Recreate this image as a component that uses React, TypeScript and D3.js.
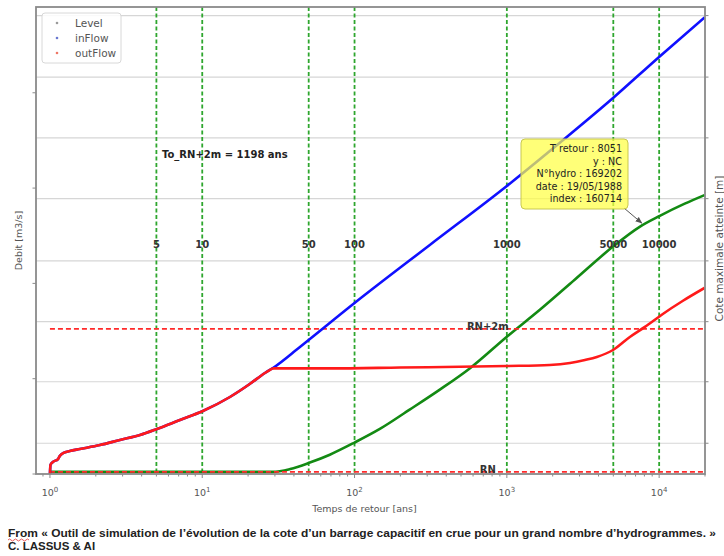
import React from "react";
import * as d3 from "d3";

// ---- data ----
const levelT = [1, 29, 37.8, 50.9, 68.8, 100, 146.6, 230, 363, 573, 1000, 1655, 2800, 4980, 7490, 10100, 14720, 19870];
const levelM = [100.0, 100.0, 100.04, 100.13, 100.24, 100.41, 100.6, 100.87, 101.15, 101.45, 101.89, 102.27, 102.69, 103.15, 103.43, 103.58, 103.75, 103.87];

// outFlow: rising part (before weir control) and controlled part
const outRiseT = [1.0, 1.008, 1.046, 1.13, 1.16, 1.22, 1.35, 1.57, 2.13, 2.88, 3.9, 5.04, 7.14, 10.1, 15.2, 20.5, 25.8, 29.1];
const outRiseQ = [0, 94, 126, 157, 189, 220, 241, 262, 304, 357, 409, 472, 567, 661, 808, 944, 1060, 1112];
const outCtrlT = [29.1, 68.8, 199, 1000, 1912, 2600, 3255, 3900, 4980, 6420, 8060, 10570, 14250, 19870];
const outCtrlQ = [1108, 1108, 1117, 1133, 1144, 1165, 1196, 1228, 1301, 1438, 1543, 1679, 1815, 1952];

const inT = [1.0, 1.008, 1.046, 1.13, 1.16, 1.22, 1.35, 1.57, 2.13, 2.88, 3.9, 5.04, 7.14, 10.1, 15.2, 20.5, 25.8, 29.1, 43.8, 100, 312, 1000, 2217, 4980, 9990, 19870];
const inQ = [0, 94, 126, 157, 189, 220, 241, 262, 304, 357, 409, 472, 567, 661, 808, 944, 1060, 1112, 1333, 1794, 2403, 3022, 3473, 3945, 4376, 4790];

const returnPeriods = [5, 10, 50, 100, 1000, 5000, 10000];
const decadeTicks = [1, 10, 100, 1000, 10000];
const leftTicks = [0, 1000, 2000, 3000, 4000];
const rightTicks = [100.4, 101.26, 102.1, 102.95, 103.82, 104.67, 105.52, 106.38];

const RN = 100.0;
const RN2 = 102.0;
const refLabelT = 750;

const T_RN2 = 1198;
const annT = 8051;
const annLevel = 103.45;
const annLines = ["T retour : 8051", "y : NC", "N°hydro : 169202", "date : 19/05/1988", "index : 160714"];

const legendNames = ["Level", "inFlow", "outFlow"];
const legendColors = ["#9a9a9a", "#6a78d0", "#ee7766"];

export default function App() {
  const L = 36, R = 705, T = 7, B = 474;
  const x = d3.scaleLog().domain([0.81, 20000]).range([L, R]);
  const yL = d3.scaleLinear().domain([0, 4900]).range([B, T]);
  const yR = d3.scaleLinear().domain([99.97, 106.5]).range([B, T]);

  const lineL = (ts: number[], vs: number[]) =>
    d3.line<number>().x((_, i) => x(ts[i])).y((v) => yL(v)).curve(d3.curveMonotoneX)(vs) || "";
  const lineR = (ts: number[], vs: number[]) =>
    d3.line<number>().x((_, i) => x(ts[i])).y((v) => yR(v)).curve(d3.curveMonotoneX)(vs) || "";

  const minor = x.ticks().filter((t) => !decadeTicks.includes(t));
  const font = "DejaVu Sans, sans-serif";
  const axisCol = "#8a8a8a";

  const ax = x(annT), ay = yR(annLevel);

  return (
    <svg width={724} height={556} style={{ position: "absolute", left: 0, top: 0, background: "#fff" }} fontFamily={font}>
      <defs>
        <clipPath id="plot"><rect x={L} y={T} width={R - L} height={B - T} /></clipPath>
        <marker id="ah" viewBox="0 0 10 10" refX="9" refY="5" markerWidth="7" markerHeight="7" orient="auto">
          <path d="M0,1 L10,5 L0,9 z" fill="#555" />
        </marker>
      </defs>

      {/* gridlines */}
      {rightTicks.map((t) => (
        <line key={"g" + t} x1={L} x2={R} y1={yR(t)} y2={yR(t)} stroke="#d6d6d6" strokeWidth={1.2} />
      ))}

      <g clipPath="url(#plot)">
        {returnPeriods.map((p) => (
          <line key={"v" + p} x1={x(p)} x2={x(p)} y1={T} y2={B} stroke="#2ea62e" strokeWidth={1.8} strokeDasharray="4,2.5" />
        ))}
        <path d={lineR(levelT, levelM)} fill="none" stroke="#138a13" strokeWidth={2.6} />
        <line x1={x(1)} x2={R} y1={yR(RN)} y2={yR(RN)} stroke="#ff2a2a" strokeWidth={1.8} strokeDasharray="5,3" />
        <line x1={x(1)} x2={R} y1={yR(RN2)} y2={yR(RN2)} stroke="#ff2a2a" strokeWidth={1.8} strokeDasharray="5,3" />
        <path d={lineL(inT, inQ)} fill="none" stroke="#1010ff" strokeWidth={2.6} />
        <path d={lineL(outRiseT, outRiseQ)} fill="none" stroke="#ff1a1a" strokeWidth={2.6} strokeLinejoin="round" />
        <path d={lineL(outCtrlT, outCtrlQ)} fill="none" stroke="#ff1a1a" strokeWidth={2.6} strokeLinejoin="round" />
      </g>

      {returnPeriods.map((p) => (
        <text key={"l" + p} x={x(p)} y={248} textAnchor="middle" fontSize={10} fontWeight="bold" fill="#333">{p}</text>
      ))}
      <text x={x(refLabelT)} y={yR(RN2) + 1} textAnchor="middle" fontSize={10} fontWeight="bold" fill="#333">RN+2m</text>
      <text x={x(refLabelT)} y={yR(RN) + 1} textAnchor="middle" fontSize={10} fontWeight="bold" fill="#333">RN</text>
      <text x={162} y={158} fontSize={10} fontWeight="bold" fill="#222">{`To_RN+2m = ${T_RN2} ans`}</text>

      <line x1={624} y1={208} x2={ax - 3} y2={ay - 2} stroke="#555" strokeWidth={1} markerEnd="url(#ah)" />
      <rect x={521} y={139} width={107} height={70} rx={4} fill="#ffff44" fillOpacity={0.72} stroke="#c8c850" strokeWidth={1} />
      {annLines.map((s, i) => (
        <text key={s} x={622} y={152 + i * 12.5} textAnchor="end" fontSize={9.6} fill="#222">{s}</text>
      ))}

      <rect x={L} y={T} width={R - L} height={B - T} fill="none" stroke={axisCol} strokeWidth={1.8} />

      {decadeTicks.map((t, i) => (
        <g key={"xt" + t}>
          <line x1={x(t)} x2={x(t)} y1={B} y2={B + 4} stroke={axisCol} />
          <text x={x(t)} y={496} textAnchor="middle" fontSize={9.5} fill="#555">
            10<tspan dy={-4} fontSize={7}>{i}</tspan>
          </text>
        </g>
      ))}
      {minor.map((t) => (
        <line key={"mt" + t} x1={x(t)} x2={x(t)} y1={B} y2={B + 2.5} stroke={axisCol} />
      ))}
      {leftTicks.map((t) => (
        <line key={"lt" + t} x1={L - 3.5} x2={L} y1={yL(t)} y2={yL(t)} stroke={axisCol} />
      ))}
      {rightTicks.map((t) => (
        <line key={"rt" + t} x1={R} x2={R + 3.5} y1={yR(t)} y2={yR(t)} stroke={axisCol} />
      ))}

      <text x={(L + R) / 2 - 6} y={512} textAnchor="middle" fontSize={9.5} fill="#555">Temps de retour [ans]</text>
      <text transform={`translate(22,${(T + B) / 2}) rotate(-90)`} textAnchor="middle" fontSize={9.5} fill="#555">Debit [m3/s]</text>
      <text transform={`translate(723,${(T + B) / 2 + 8}) rotate(-90)`} textAnchor="middle" fontSize={10.5} fill="#555">Cote maximale atteinte [m]</text>

      <rect x={42} y={13} width={79} height={50} rx={3} fill="#fff" fillOpacity={0.85} stroke="#d8d8d8" />
      {legendNames.map((n, i) => (
        <g key={n}>
          <circle cx={57} cy={23 + i * 15} r={1.3} fill={legendColors[i]} />
          <text x={75} y={27 + i * 15} fontSize={10.5} fill="#555">{n}</text>
        </g>
      ))}

      <text x={8} y={537} fontSize={11.5} fontWeight="bold" fill="#222" fontFamily="Liberation Sans Narrow, Liberation Sans, sans-serif" textLength={708} lengthAdjust="spacingAndGlyphs">
        From « Outil de simulation de l’évolution de la cote d’un barrage capacitif en crue pour un grand nombre d’hydrogrammes. »
      </text>
      <path d="M8,540 q1.5,-2 3,0 t3,0 t3,0 t3,0 t3,0 t3,0 t3,0" fill="none" stroke="#e03030" strokeWidth={0.8} />
      <text x={8} y={550} fontSize={11.5} fontWeight="bold" fill="#222" fontFamily="Liberation Sans Narrow, Liberation Sans, sans-serif">C. LASSUS &amp; AI</text>
    </svg>
  );
}
